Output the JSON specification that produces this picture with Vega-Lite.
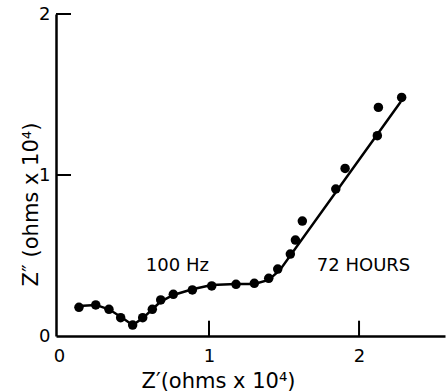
{
  "$schema": "https://vega.github.io/schema/vega-lite/v6.json",
  "width": 389,
  "height": 322,
  "autosize": {"type": "none"},
  "padding": {"left": 56, "top": 14, "right": 3, "bottom": 55},
  "background": "white",
  "config": {"view": {"stroke": null}, "font": "DejaVu Sans"},
  "datasets": {
    "points": [
      {"zr": 0.133, "zi": 0.178}, {"zr": 0.245, "zi": 0.193}, {"zr": 0.333, "zi": 0.166},
      {"zr": 0.411, "zi": 0.114}, {"zr": 0.491, "zi": 0.068}, {"zr": 0.558, "zi": 0.114},
      {"zr": 0.622, "zi": 0.166}, {"zr": 0.678, "zi": 0.224}, {"zr": 0.762, "zi": 0.259},
      {"zr": 0.889, "zi": 0.286}, {"zr": 1.018, "zi": 0.311}, {"zr": 1.18, "zi": 0.321},
      {"zr": 1.302, "zi": 0.327}, {"zr": 1.398, "zi": 0.358}, {"zr": 1.458, "zi": 0.416},
      {"zr": 1.542, "zi": 0.509}, {"zr": 1.576, "zi": 0.596}, {"zr": 1.622, "zi": 0.714},
      {"zr": 1.845, "zi": 0.913}, {"zr": 1.907, "zi": 1.041}, {"zr": 2.122, "zi": 1.244},
      {"zr": 2.129, "zi": 1.42}, {"zr": 2.284, "zi": 1.482}
    ],
    "curve": [
      {"i": 1, "zr": 0.133, "zi": 0.186}, {"i": 2, "zr": 0.245, "zi": 0.193},
      {"i": 3, "zr": 0.333, "zi": 0.166}, {"i": 4, "zr": 0.411, "zi": 0.12},
      {"i": 5, "zr": 0.491, "zi": 0.068}, {"i": 6, "zr": 0.558, "zi": 0.11},
      {"i": 7, "zr": 0.622, "zi": 0.166}, {"i": 8, "zr": 0.678, "zi": 0.214},
      {"i": 9, "zr": 0.762, "zi": 0.255}, {"i": 10, "zr": 0.889, "zi": 0.29},
      {"i": 11, "zr": 1.018, "zi": 0.317}, {"i": 12, "zr": 1.18, "zi": 0.323},
      {"i": 13, "zr": 1.302, "zi": 0.323}, {"i": 14, "zr": 1.398, "zi": 0.348},
      {"i": 15, "zr": 1.473, "zi": 0.41}, {"i": 16, "zr": 2.278, "zi": 1.455}
    ],
    "labels": [
      {"zr": 0.789, "zi": 0.435, "t": "100 Hz"},
      {"zr": 2.03, "zi": 0.435, "t": "72 HOURS"}
    ],
    "xticks": [{"zr": 1, "y0": 0, "y1": 0.095}, {"zr": 2, "y0": 0, "y1": 0.095}],
    "yticks": [{"zi": 1, "x0": -0.02, "x1": 0.08}, {"zi": 2, "x0": -0.02, "x1": 0.08}]
  },
  "layer": [
    {
      "data": {"name": "curve"},
      "mark": {"type": "line", "color": "black", "strokeWidth": 2.5},
      "encoding": {
        "x": {
          "field": "zr", "type": "quantitative",
          "scale": {"domain": [-0.02, 2.573], "nice": false, "zero": false},
          "axis": {
            "values": [0, 1, 2], "grid": false, "format": "d", "ticks": false,
            "labelOverlap": false,
            "domainColor": "black", "domainWidth": 2.5,
            "labelFontSize": 18, "labelColor": "black", "labelPadding": 11,
            "title": "Z′(ohms  x  10⁴)", "titleFontSize": 21, "titleFontWeight": "normal",
            "titleColor": "black", "titleX": 162, "titleY": 45,
            "titleAlign": "center", "titleBaseline": "middle"
          }
        },
        "y": {
          "field": "zi", "type": "quantitative",
          "scale": {"domain": [0, 2], "nice": false},
          "axis": {
            "values": [0, 1, 2], "grid": false, "ticks": false,
            "labelOverlap": false, "labelBound": false, "labelFlush": false,
            "labelExpr": "datum.value == 0 ? '0' : datum.value == 1 ? '1' : '2'",
            "domainColor": "black", "domainWidth": 2.5,
            "labelFontSize": 18, "labelColor": "black", "labelPadding": 6,
            "title": "Z″ (ohms  x  10⁴)", "titleFontSize": 21, "titleFontWeight": "normal",
            "titleColor": "black", "titleX": -25, "titleY": 190,
            "titleAlign": "center", "titleBaseline": "middle"
          }
        },
        "order": {"field": "i"}
      }
    },
    {
      "data": {"name": "xticks"},
      "mark": {"type": "rule", "color": "black", "strokeWidth": 2},
      "encoding": {
        "x": {"field": "zr", "type": "quantitative"},
        "y": {"field": "y0", "type": "quantitative"},
        "y2": {"field": "y1"}
      }
    },
    {
      "data": {"name": "yticks"},
      "mark": {"type": "rule", "color": "black", "strokeWidth": 2},
      "encoding": {
        "y": {"field": "zi", "type": "quantitative"},
        "x": {"field": "x0", "type": "quantitative"},
        "x2": {"field": "x1"}
      }
    },
    {
      "data": {"name": "points"},
      "mark": {"type": "circle", "color": "black", "opacity": 1, "size": 90},
      "encoding": {
        "x": {"field": "zr", "type": "quantitative"},
        "y": {"field": "zi", "type": "quantitative"}
      }
    },
    {
      "data": {"name": "labels"},
      "mark": {"type": "text", "color": "black", "fontSize": 18, "align": "center", "baseline": "middle"},
      "encoding": {
        "x": {"field": "zr", "type": "quantitative"},
        "y": {"field": "zi", "type": "quantitative"},
        "text": {"field": "t"}
      }
    }
  ]
}
